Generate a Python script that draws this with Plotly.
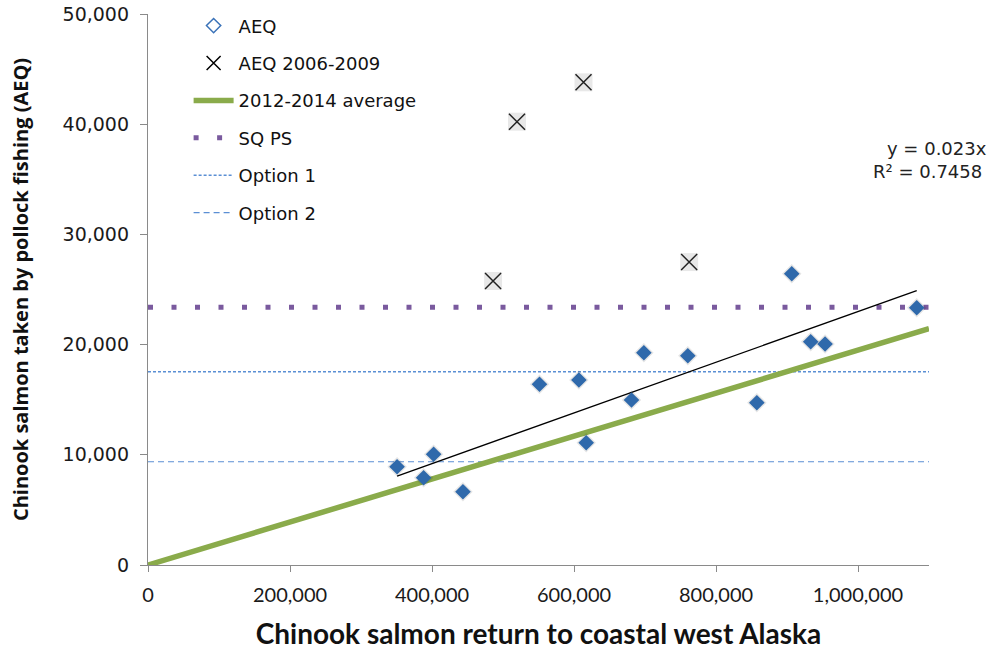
import plotly.graph_objects as go

# ---- data ----
aeq_return = [350800, 388200, 402300, 443600, 551400, 606900, 617200, 681000,
              698400, 760300, 857500, 906700, 933400, 953600, 1082700]
aeq_bycatch = [8920, 7920, 10050, 6650, 16400, 16790, 11100, 14970,
               19260, 18990, 14730, 26430, 20260, 20050, 23350]

aeq0609_return = [486000, 519700, 613400, 762200]
aeq0609_bycatch = [25770, 40230, 43800, 27490]

avg_x = [0, 1100000]
avg_y = [0, 21450]

sqps_level = 23400
option1_level = 17540
option2_level = 9370
x_range = [0, 1100000]

trend_slope = 0.023
trend_r2 = 0.7458

x_ticks = [0, 200000, 400000, 600000, 800000, 1000000]
y_ticks = [0, 10000, 20000, 30000, 40000, 50000]

WIDE = "DejaVu Sans"
NARROW = "Lato"

fig = go.Figure()

# Option 1 / Option 2 / SQ PS horizontal references
fig.add_trace(go.Scatter(x=x_range, y=[option1_level] * 2, mode="lines",
                         line=dict(color="#5b8fd4", width=1.4, dash="3px,2px"),
                         name="Option 1", legendgroup="o1", legendrank=5))
fig.add_trace(go.Scatter(x=x_range, y=[option2_level] * 2, mode="lines",
                         line=dict(color="#5b8fd4", width=1.2, dash="6px,4px"),
                         name="Option 2", legendgroup="o2", legendrank=6))
fig.add_trace(go.Scatter(x=x_range, y=[sqps_level] * 2, mode="lines",
                         line=dict(color="#7a5a9e", width=5, dash="5px,18.5px"),
                         name="SQ PS", legendgroup="sq", legendrank=4))

# 2012-2014 average line
fig.add_trace(go.Scatter(x=avg_x, y=avg_y, mode="lines",
                         line=dict(color="#8aab4b", width=5.5),
                         name="2012-2014 average", legendgroup="av", legendrank=3))

# trend line through origin over the AEQ range
tx = [min(aeq_return), max(aeq_return)]
fig.add_trace(go.Scatter(x=tx, y=[trend_slope * v for v in tx], mode="lines",
                         line=dict(color="black", width=1.3),
                         showlegend=False, hoverinfo="skip"))

# AEQ diamonds (shadow + filled)
fig.add_trace(go.Scatter(x=aeq_return, y=aeq_bycatch, mode="markers",
                         marker=dict(symbol="diamond", size=15, color="rgba(0,0,0,0.10)",
                                     line=dict(width=0)),
                         showlegend=False, hoverinfo="skip"))
fig.add_trace(go.Scatter(x=aeq_return, y=aeq_bycatch, mode="markers",
                         marker=dict(symbol="diamond", size=12, color="#2f69ab",
                                     line=dict(width=0)),
                         showlegend=False))
fig.add_trace(go.Scatter(x=[None], y=[None], mode="markers",
                         marker=dict(symbol="diamond-open", size=11, color="#3a72b8",
                                     line=dict(width=1.5)),
                         name="AEQ", legendgroup="aeq", legendrank=1))

# AEQ 2006-2009 X markers with shadow box
fig.add_trace(go.Scatter(x=aeq0609_return, y=aeq0609_bycatch, mode="markers",
                         marker=dict(symbol="square", size=18, color="rgba(0,0,0,0.09)",
                                     line=dict(width=0)),
                         showlegend=False, hoverinfo="skip"))
fig.add_trace(go.Scatter(x=aeq0609_return, y=aeq0609_bycatch, mode="markers",
                         marker=dict(symbol="x-thin-open", size=16, color="#222",
                                     line=dict(width=1.5, color="#222")),
                         showlegend=False))
fig.add_trace(go.Scatter(x=[None], y=[None], mode="markers",
                         marker=dict(symbol="x-thin-open", size=14, color="black",
                                     line=dict(width=1.5, color="black")),
                         name="AEQ 2006-2009", legendgroup="x", legendrank=2))

fig.add_annotation(x=0.944, y=0.779, xref="paper", yref="paper",
                   text="y = 0.023x", showarrow=False, xanchor="left",
                   font=dict(family=WIDE, size=18, color="#222"))
fig.add_annotation(x=0.926, y=0.737, xref="paper", yref="paper",
                   text=f"R² = {trend_r2}", showarrow=False, xanchor="left",
                   font=dict(family=WIDE, size=18, color="#222"))

fig.update_layout(
    width=999, height=650,
    margin=dict(l=147.5, r=70, t=14, b=85, autoexpand=False),
    plot_bgcolor="white", paper_bgcolor="white",
    font=dict(family=WIDE, size=17, color="#222"),
    showlegend=True,
    legend=dict(x=0.052, y=1.012, xanchor="left", yanchor="top",
                bgcolor="rgba(0,0,0,0)", font=dict(family=WIDE, size=18, color="#111"),
                tracegroupgap=11, itemwidth=40),
    xaxis=dict(range=x_range, tickvals=x_ticks,
               tickformat=",d", showgrid=False, zeroline=False, automargin=False,
               showline=True, linecolor="#8a8a8a", linewidth=1.3,
               ticks="outside", ticklen=6, tickcolor="#8a8a8a", ticklabelstandoff=6,
               tickfont=dict(family=NARROW, size=20, color="#1a1a1a"),
               title=dict(text="<b>Chinook salmon return to coastal west Alaska</b>",
                          font=dict(family=NARROW, size=28, color="#111"), standoff=19)),
    yaxis=dict(range=[0, 50000], tickvals=y_ticks,
               tickformat=",d", showgrid=False, zeroline=False,
               automargin=False, ticklabelstandoff=7,
               showline=True, linecolor="#8a8a8a", linewidth=1.3,
               ticks="outside", ticklen=7, tickcolor="#8a8a8a",
               tickfont=dict(family=WIDE, size=19, color="#1a1a1a"),
               title=dict(text="<b>Chinook salmon taken by pollock fishing (AEQ)</b>",
                          font=dict(family="Open Sans", size=20, color="#111"), standoff=28)),
)

fig.write_html("out.html", post_script="document.body.style.margin='0';",
               config={"displayModeBar": False})
